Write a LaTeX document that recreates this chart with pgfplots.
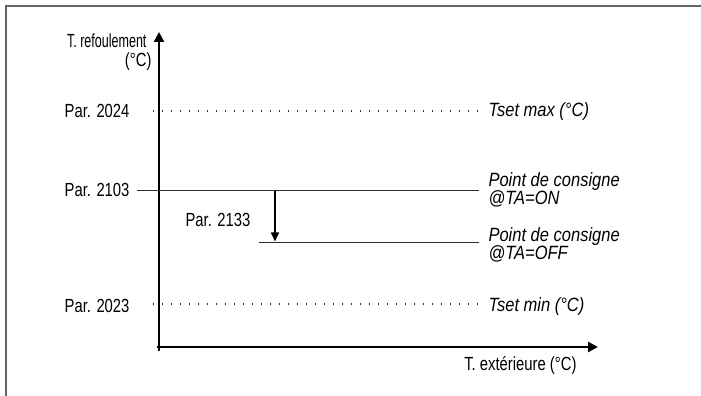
\documentclass[border=0pt]{standalone}
\usepackage{pgfplots}
\pgfplotsset{compat=1.18}
\usepackage{fontspec}
\usetikzlibrary{arrows.meta}
\setmainfont{Liberation Sans}[FakeStretch=0.78]
\newfontfamily\itfont{Liberation Sans}[FakeStretch=0.86]
\newfontfamily\narrowfont{Liberation Sans}[FakeStretch=0.66]

\definecolor{framegray}{RGB}{100,100,100}
\definecolor{linegray}{RGB}{45,45,45}

\newcommand{\lbl}{\fontsize{19bp}{22bp}\selectfont}
\newcommand{\ilbl}{\itfont\itshape\fontsize{19.2bp}{22bp}\selectfont}

\begin{document}
\begin{tikzpicture}
\useasboundingbox (0,0) rectangle (701bp,396bp);
\begin{axis}[
    at={(0,0)}, anchor=south west,
    width=701bp, height=396bp, scale only axis,
    xmin=0, xmax=701, ymin=0, ymax=396,
    hide axis, clip=false,
    every node/.style={inner sep=0pt, text=black!85},
]
% frame
\addplot[framegray, line width=1.6bp] coordinates {(6,0) (6,390) (701,390)};

% axes
\addplot[black, line width=2.6bp, -{Triangle[length=10bp,width=10bp]}] coordinates {(159,45) (159,364)};
\addplot[black, line width=2.6bp, -{Triangle[length=10bp,width=10bp]}] coordinates {(157,49) (598,49)};

% Tset max / Tset min (dotted)
\addplot[linegray, line width=1.2bp, dash pattern=on 1.2bp off 7.8bp] coordinates {(153,285) (480,285)};
\addplot[linegray, line width=1.2bp, dash pattern=on 1.2bp off 7.8bp] coordinates {(153,92) (480,92)};

% set point TA=ON / TA=OFF
\addplot[linegray, line width=1.1bp] coordinates {(137,205.5) (479,205.5)};
\addplot[linegray, line width=1.1bp] coordinates {(259,153.5) (479,153.5)};

% offset Par. 2133
\addplot[black, line width=1.6bp, -{Triangle[length=9bp,width=8bp]}] coordinates {(275,205) (275,154.5)};

% left labels
\node[anchor=base east] at (axis cs:133,278.5) {\lbl Par. 2024};
\node[anchor=base east] at (axis cs:133,199) {\lbl Par. 2103};
\node[anchor=base east] at (axis cs:133,83) {\lbl Par. 2023};
\node[anchor=base west] at (axis cs:182,169) {\lbl Par. 2133};

% axis titles
\node[anchor=base east] at (axis cs:150,348) {\narrowfont\fontsize{19bp}{22bp}\selectfont T. refoulement};
\node[anchor=base east] at (axis cs:155,329) {\lbl (°C)};
\node[anchor=base east] at (axis cs:580,26) {\lbl T. extérieure (°C)};

% right labels
\node[anchor=base west] at (axis cs:485,279) {\ilbl Tset max (°C)};
\node[anchor=base west] at (axis cs:485,209) {\ilbl Point de consigne};
\node[anchor=base west] at (axis cs:485,191) {\ilbl @TA=ON};
\node[anchor=base west] at (axis cs:485,154) {\ilbl Point de consigne};
\node[anchor=base west] at (axis cs:485,136) {\ilbl @TA=OFF};
\node[anchor=base west] at (axis cs:485,84) {\ilbl Tset min (°C)};
\end{axis}
\end{tikzpicture}
\end{document}
